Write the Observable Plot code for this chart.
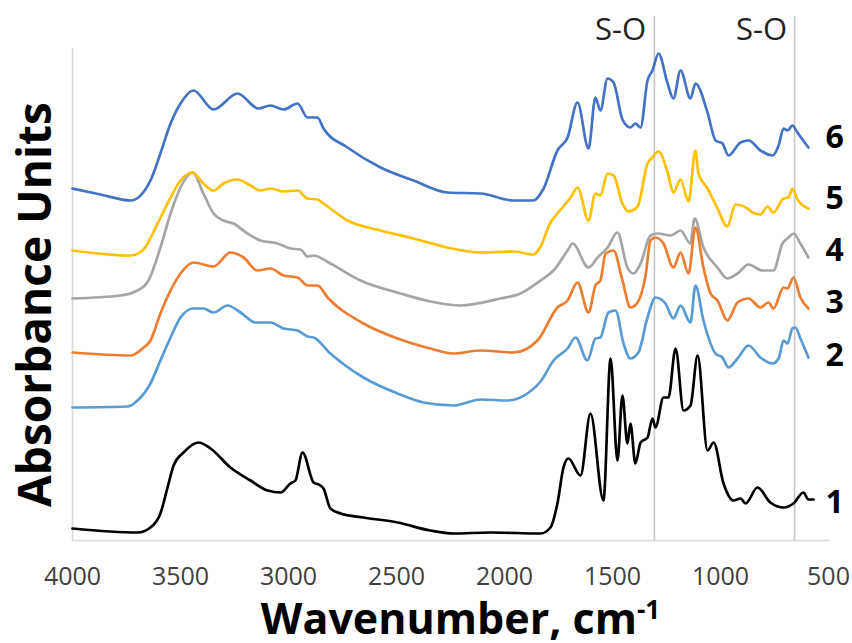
<!DOCTYPE html>
<html><head><meta charset="utf-8">
<script src="https://cdn.jsdelivr.net/npm/d3@7"></script>
<script src="https://cdn.jsdelivr.net/npm/@observablehq/plot@0.6"></script>
<style>body{margin:0;background:#fff} svg{display:block}</style>
</head><body><div id="chart"></div>
<script>
// Wavenumbers (cm-1) and absorbance (offset, arbitrary units) per spectrum
const wn1 = [4000,3699,3639,3593,3560,3532,3486,3417,3361,3269,3176,3097,3037,2991,2968,2935,2884,2852,2838,2806,2759,2653,2495,2343,2236,2065,1833,1787,1755,1727,1704,1648,1602,1542,1509,1477,1454,1431,1417,1394,1370,1338,1315,1301,1264,1241,1208,1171,1139,1106,1060,1032,986,940,907,884,829,769,708,662,616,593,569];
const abs1 = [0.12,0.08,0.13,0.27,0.53,0.75,0.88,0.98,0.92,0.73,0.60,0.50,0.48,0.57,0.60,0.88,0.58,0.55,0.52,0.32,0.27,0.23,0.18,0.10,0.07,0.08,0.07,0.13,0.37,0.73,0.82,0.65,1.27,0.40,1.82,0.80,1.45,0.97,1.17,0.77,0.98,1.03,1.22,1.13,1.43,1.43,1.92,1.30,1.35,1.85,0.90,0.98,0.57,0.40,0.42,0.37,0.53,0.38,0.33,0.37,0.48,0.41,0.41];

const wn2 = [4000,3745,3699,3639,3593,3546,3500,3440,3394,3347,3282,3222,3153,3083,3023,2958,2912,2884,2806,2653,2495,2375,2236,2111,1986,1894,1833,1773,1708,1671,1616,1579,1556,1519,1486,1449,1417,1380,1338,1301,1255,1218,1185,1139,1116,1079,1023,991,963,921,870,815,759,731,708,690,667,653,630,593];
const abs2 = [1.33,1.34,1.40,1.57,1.80,2.03,2.23,2.32,2.32,2.28,2.35,2.28,2.18,2.18,2.12,2.10,2.04,2.03,1.87,1.63,1.47,1.38,1.35,1.41,1.40,1.47,1.59,1.80,1.92,2.03,1.80,2.02,2.03,2.28,2.30,1.97,1.82,1.88,2.23,2.43,2.37,2.22,2.35,2.18,2.55,2.20,1.87,1.83,1.73,1.82,1.95,1.83,1.77,1.82,2.00,1.97,2.12,2.13,2.02,1.83];

const wn3 = [4000,3731,3676,3639,3593,3546,3500,3440,3347,3269,3208,3144,3083,3023,2958,2912,2866,2819,2653,2495,2343,2236,2111,1958,1847,1755,1708,1662,1611,1579,1556,1532,1495,1454,1417,1384,1347,1324,1301,1264,1218,1185,1148,1116,1079,1046,1014,968,921,870,815,778,755,708,690,662,630,593];
const abs3 = [1.88,1.85,1.92,2.00,2.27,2.50,2.67,2.78,2.74,2.88,2.83,2.70,2.72,2.65,2.63,2.55,2.55,2.43,2.17,2.02,1.92,1.87,1.90,1.88,2.00,2.33,2.40,2.58,2.28,2.55,2.60,2.87,2.90,2.60,2.33,2.38,2.65,3.00,3.03,2.97,2.73,2.88,2.67,3.13,2.73,2.47,2.40,2.20,2.38,2.42,2.33,2.38,2.32,2.53,2.52,2.63,2.43,2.32];

const wn4 = [4000,3778,3699,3648,3593,3546,3500,3444,3394,3347,3301,3255,3190,3130,3051,2991,2944,2912,2884,2806,2667,2481,2343,2204,2019,1926,1833,1773,1708,1685,1611,1569,1523,1477,1431,1403,1370,1324,1292,1231,1185,1139,1120,1079,1014,968,921,870,806,755,713,685,662,630,593];
const abs4 = [2.42,2.45,2.50,2.60,2.93,3.27,3.53,3.68,3.47,3.27,3.20,3.17,3.07,3.00,2.97,2.92,2.91,2.84,2.85,2.77,2.60,2.47,2.39,2.35,2.42,2.47,2.60,2.70,2.90,2.97,2.73,2.83,2.93,3.08,2.73,2.67,2.77,3.05,3.07,3.05,3.10,2.97,3.22,2.93,2.73,2.62,2.67,2.76,2.70,2.70,2.97,3.03,3.07,2.97,2.83];

const wn5 = [4000,3731,3676,3606,3546,3500,3444,3394,3347,3301,3236,3176,3130,3083,3023,2958,2912,2866,2838,2727,2574,2421,2264,2111,1958,1866,1833,1787,1755,1694,1662,1611,1579,1556,1523,1495,1454,1426,1384,1338,1315,1287,1245,1218,1185,1148,1116,1102,1060,1014,968,931,875,852,815,782,755,708,685,667,644,593];
const abs5 = [2.90,2.85,2.90,3.17,3.43,3.60,3.68,3.57,3.50,3.57,3.61,3.55,3.50,3.52,3.49,3.50,3.42,3.41,3.37,3.20,3.10,3.02,2.93,2.88,2.89,2.86,2.94,3.18,3.27,3.43,3.53,3.20,3.47,3.45,3.67,3.65,3.37,3.29,3.34,3.77,3.83,3.89,3.68,3.48,3.61,3.39,3.90,3.67,3.52,3.32,3.14,3.36,3.32,3.28,3.26,3.34,3.28,3.42,3.43,3.52,3.41,3.32];

const wn6 = [4000,3870,3731,3639,3593,3546,3500,3440,3347,3236,3139,3083,3023,2958,2912,2866,2838,2727,2574,2421,2264,2111,1958,1866,1819,1755,1708,1662,1611,1579,1556,1523,1495,1454,1417,1394,1370,1338,1315,1287,1245,1218,1185,1139,1116,1060,1023,991,963,907,870,815,759,731,708,690,667,644,593];
const abs6 = [3.52,3.46,3.40,3.60,3.87,4.17,4.37,4.50,4.31,4.47,4.32,4.35,4.31,4.37,4.23,4.23,4.12,3.93,3.73,3.60,3.48,3.47,3.40,3.40,3.52,3.90,4.03,4.38,3.92,4.43,4.30,4.62,4.58,4.21,4.13,4.17,4.13,4.60,4.70,4.87,4.57,4.42,4.70,4.42,4.57,4.28,4.00,3.97,3.85,3.98,4.00,3.90,3.85,3.95,4.12,4.10,4.15,4.08,3.93];

const seriesNames = ["1","2","3","4","5","6"];
const seriesColors = ["#000000","#5B9BD5","#ED7D31","#A5A5A5","#FFC000","#4472C4"];
const labelY = [0.38,1.85,2.38,2.90,3.42,4.03];
const labelWn = 514;
const xTicks = [4000,3500,3000,2500,2000,1500,1000,500];
const soLines = [1306, 657];
const soLabels = ["S-O","S-O"];
const soLabelWn = [1463, 810];
const soLabelY = 5.10;
const yTop = 5.24;

const wns = [wn1,wn2,wn3,wn4,wn5,wn6];
const abss = [abs1,abs2,abs3,abs4,abs5,abs6];
const drawOrder = [3,5,4,2,1,0];
const rows = [];
for (const i of drawOrder) {
  wns[i].forEach((w, j) => rows.push({series: seriesNames[i], wn: w, abs: abss[i][j]}));
}
const labels = seriesNames.map((s, i) => ({s, wn: labelWn, y: labelY[i]}));
const soData = soLabels.map((t, i) => ({t, wn: soLabelWn[i], y: soLabelY}));

const font = "'Open Sans', sans-serif";
const plot = Plot.plot({
  width: 852, height: 643,
  marginLeft: 72, marginRight: 24, marginTop: 16, marginBottom: 103,
  style: {fontFamily: font, background: "#fff", overflow: "visible"},
  x: {domain: [4000, 500]},
  y: {domain: [0, yTop], axis: null},
  color: {domain: seriesNames, range: seriesColors},
  marks: [
    Plot.ruleX(soLines, {y1: 0, y2: yTop, stroke: "#c6c6c6", strokeWidth: 1.6}),
    Plot.ruleX([4000], {y1: 0, y2: 4.92, stroke: "#d9d9d9", strokeWidth: 1.6}),
    Plot.ruleY([0], {x1: 4000, x2: 490, stroke: "#d9d9d9", strokeWidth: 1.6}),
    Plot.axisX({ticks: xTicks, tickSize: 0, tickPadding: 27, fontSize: 25, color: "#404040", label: null, tickFormat: d => String(d)}),
    Plot.line(rows, {x: "wn", y: "abs", z: "series", stroke: "series", strokeWidth: 2.7, curve: "monotone-x"}),
    Plot.text(labels, {x: "wn", y: "y", text: "s", textAnchor: "start", fontSize: 32, fontWeight: "bold", fill: "#000"}),
    Plot.text(soData, {x: "wn", y: "y", text: "t", fontSize: 31, fill: "#222"}),
    Plot.text(["Wavenumber, cm"], {frameAnchor: "bottom", textAnchor: "middle", lineAnchor: "bottom", dx: 10, dy: 93, fontSize: 43, fontWeight: "bold", fill: "#000"}),
    Plot.text(["Absorbance Units"], {frameAnchor: "left", textAnchor: "middle", lineAnchor: "middle", rotate: -90, dx: -36, dy: 26, fontSize: 46, fontWeight: "bold", fill: "#000"})
  ]
});
d3.select(plot).selectAll("text")
  .filter(function() { return this.textContent === "Wavenumber, cm"; })
  .append("tspan").attr("dy", "-0.55em").attr("font-size", "26px").text("-1");
document.getElementById("chart").appendChild(plot);
</script>
</body></html>
